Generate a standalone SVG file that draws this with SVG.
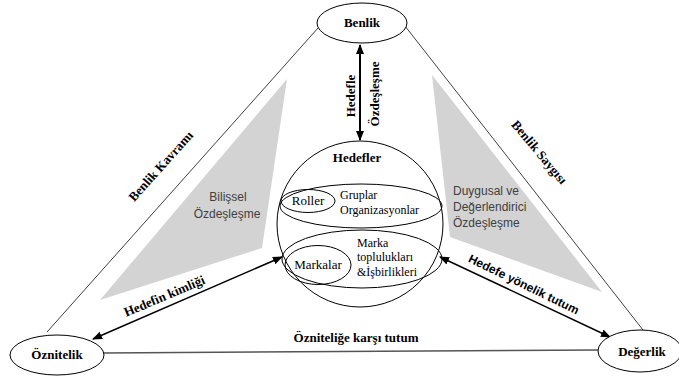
<svg xmlns="http://www.w3.org/2000/svg" width="679" height="378" viewBox="0 0 679 378">
<style>
.ser{font-family:"Liberation Serif","Times New Roman",serif;fill:#000}
.b{font-weight:bold}
.san{font-family:"Liberation Sans",Arial,sans-serif;fill:#404040;font-size:12px}
.node{fill:#fff;stroke:#000;stroke-width:1}
.in{fill:none;stroke:#000;stroke-width:1}
.edge{stroke:#404040;stroke-width:1;fill:none}
.tri{fill:#d3d3d3;stroke:none}
</style>
<defs>
<marker id="ah" viewBox="0 0 10 8" refX="9" refY="4" markerWidth="10" markerHeight="8" markerUnits="userSpaceOnUse" orient="auto-start-reverse"><path d="M0,0 L10,4 L0,8 z" fill="#000"/></marker>
<marker id="ahs" viewBox="0 0 10 8" refX="9" refY="4" markerWidth="6" markerHeight="5" markerUnits="userSpaceOnUse" orient="auto-start-reverse"><path d="M0,0 L10,4 L0,8 z" fill="#000"/></marker>
</defs>
<rect width="679" height="378" fill="#fff"/>

<g id="shading">
<polygon class="tri" points="287,79 262,248 100,300"/>
<polygon class="tri" points="432,75 450,237 602,292"/>
<text class="san" text-anchor="middle" x="228" y="201">Bilişsel</text>
<text class="san" text-anchor="middle" x="227" y="218">Özdeşleşme</text>
<text class="san" x="453" y="195">Duygusal ve</text>
<text class="san" x="453" y="211">Değerlendirici</text>
<text class="san" x="453" y="227">Özdeşleşme</text>
</g>

<g id="connectors">
<line class="edge" x1="47" y1="332" x2="318" y2="28"/>
<line class="edge" x1="405" y1="26" x2="643" y2="330"/>
<line x1="103" y1="353" x2="598" y2="350" stroke="#555" stroke-width="1.5"/>
<line x1="360" y1="45" x2="360" y2="140" stroke="#000" stroke-width="2" marker-start="url(#ah)" marker-end="url(#ah)"/>
<line x1="93" y1="339" x2="282" y2="257" stroke="#000" stroke-width="1.5" marker-start="url(#ah)" marker-end="url(#ah)"/>
<line x1="440" y1="257" x2="610" y2="337" stroke="#000" stroke-width="1.5" marker-start="url(#ah)" marker-end="url(#ah)"/>
<line x1="289" y1="214" x2="289" y2="245" stroke="#000" stroke-width="0.8" marker-start="url(#ahs)" marker-end="url(#ahs)"/>
<line x1="430" y1="214" x2="430" y2="246" stroke="#000" stroke-width="0.8" marker-start="url(#ahs)" marker-end="url(#ahs)"/>
<text class="ser b" font-size="13" text-anchor="middle" transform="translate(164,169) rotate(-48)">Benlik Kavramı</text>
<text class="ser b" font-size="13" text-anchor="middle" transform="translate(536,155) rotate(50)">Benlik Saygısı</text>
<text class="ser b" font-size="13" text-anchor="middle" transform="translate(166,300) rotate(-23)">Hedefin kimliği</text>
<text font-family="Liberation Sans,Arial,sans-serif" font-weight="bold" font-size="12" fill="#000" text-anchor="middle" transform="translate(522,288) rotate(26)">Hedefe yönelik tutum</text>
<text class="ser b" font-size="13" text-anchor="middle" x="356" y="342">Özniteliğe karşı tutum</text>
<text class="ser b" font-size="13" text-anchor="middle" transform="translate(355,96) rotate(-90)">Hedefle</text>
<text class="ser b" font-size="13" text-anchor="middle" transform="translate(379,94) rotate(-90)">Özdeşleşme</text>
</g>

<g id="benlik">
<ellipse class="node" cx="362" cy="23" rx="45" ry="20"/>
<text class="ser b" font-size="13" text-anchor="middle" x="362" y="27">Benlik</text>
</g>

<g id="oznitelik">
<ellipse class="node" cx="57" cy="355" rx="47" ry="20"/>
<text class="ser b" font-size="13" text-anchor="middle" x="57" y="359">Öznitelik</text>
</g>

<g id="degerlik">
<ellipse class="node" cx="640" cy="351" rx="42" ry="21"/>
<text class="ser b" font-size="13" text-anchor="middle" x="642" y="356">Değerlik</text>
</g>

<g id="hedefler">
<circle class="node" cx="360" cy="224" r="83"/>
<text class="ser b" font-size="13" text-anchor="middle" x="357" y="162">Hedefler</text>
<ellipse class="in" cx="361" cy="206" rx="81" ry="22"/>
<ellipse class="in" cx="308" cy="201" rx="27" ry="11.5"/>
<text class="ser" font-size="13" text-anchor="middle" x="308" y="205">Roller</text>
<text class="ser" font-size="12" x="340" y="199">Gruplar</text>
<text class="ser" font-size="12" x="340" y="214">Organizasyonlar</text>
<ellipse class="in" cx="362" cy="259" rx="80" ry="29"/>
<ellipse class="in" cx="318" cy="265" rx="33" ry="19.5"/>
<text class="ser" font-size="13" text-anchor="middle" x="318" y="269">Markalar</text>
<text class="ser" font-size="12" x="357" y="247">Marka</text>
<text class="ser" font-size="12" x="357" y="261">toplulukları</text>
<text class="ser" font-size="12" x="357" y="276">&amp;İşbirlikleri</text>
</g>
</svg>
